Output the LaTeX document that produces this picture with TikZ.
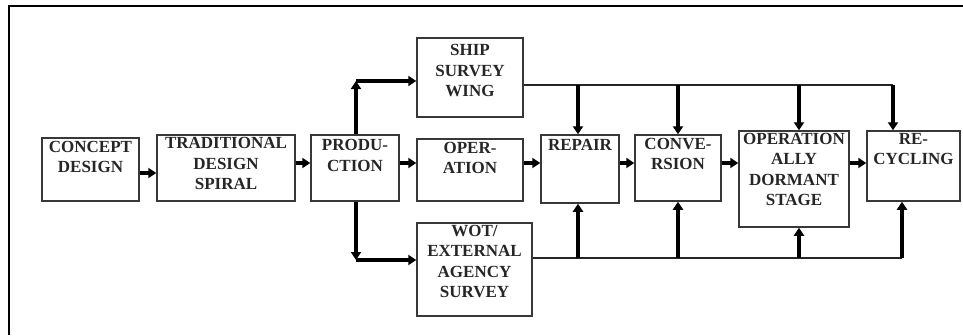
\documentclass[tikz,border=0pt]{standalone}
\usepackage{fontspec}
\setmainfont{Liberation Serif}
\usetikzlibrary{arrows.meta}
\begin{document}
\begin{tikzpicture}[x=1pt,y=-1pt,
  box/.style={draw=black!78, line width=1.5pt, inner sep=0pt},
  txt/.style={font=\bfseries\fontsize{17}{20.5}\selectfont, align=center, inner sep=0pt, anchor=north, text=black!85},
  arr/.style={line width=3.2pt, -{Triangle[length=8pt,width=10pt]}},
  bus/.style={line width=1.8pt, draw=black!85}]
\useasboundingbox (0,0) rectangle (963,335);
\draw[line width=2.2pt] (9,335) -- (9,6) -- (963,6);

% boxes
\node[box, minimum width=97pt,  minimum height=63pt] (concept) at (90.5,169.5) {};
\node[box, minimum width=138pt, minimum height=66pt] (trad)    at (226,168) {};
\node[box, minimum width=88pt,  minimum height=66pt] (prod)    at (355,168) {};
\node[box, minimum width=106pt, minimum height=79pt] (ship)    at (470,77.5) {};
\node[box, minimum width=106pt, minimum height=62pt] (oper)    at (470,170) {};
\node[box, minimum width=115pt, minimum height=93pt] (wot)     at (474.5,269.5) {};
\node[box, minimum width=78pt,  minimum height=68pt] (repair)  at (580,169) {};
\node[box, minimum width=86pt,  minimum height=66pt] (conv)    at (678,168) {};
\node[box, minimum width=110pt, minimum height=96pt] (ods)     at (794,179) {};
\node[box, minimum width=93pt,  minimum height=70pt] (recyc)   at (913.5,166) {};

% texts
\node[txt] (conceptT) at ([yshift=-3.5pt]concept.north) {CONCEPT\\DESIGN};
\node[txt] (tradT)    at ([yshift=-3pt]trad.north) {TRADITIONAL\\DESIGN\\SPIRAL};
\node[txt] (prodT)    at ([yshift=-5pt]prod.north) {PRODU-\\CTION};
\node[txt] (shipT)    at ([yshift=-7pt]ship.north) {SHIP\\SURVEY\\WING};
\node[txt] (operT)    at ([yshift=-3.5pt]oper.north) {OPER-\\ATION};
\node[txt] (wotT)     at ([yshift=-2.5pt]wot.north) {WOT/\\EXTERNAL\\AGENCY\\SURVEY};
\node[txt] (repairT)  at ([yshift=-5pt]repair.north) {REPAIR};
\node[txt] (convT)    at ([yshift=-3.5pt]conv.north) {CONVE-\\RSION};
\node[txt] (odsT)     at ([yshift=-2.5pt]ods.north) {OPERATION\\ALLY\\DORMANT\\STAGE};
\node[txt] (recycT)   at ([yshift=-2.5pt]recyc.north) {RE-\\CYCLING};

% main chain
\draw[arr] (concept.east |- 0,173) -- (trad.west |- 0,173);
\draw[arr] (trad.east |- 0,163) -- (prod.west |- 0,163);
\draw[arr] (prod.east |- 0,163) -- (oper.west |- 0,163);
\draw[arr] (oper.east |- 0,163) -- (repair.west |- 0,163);
\draw[arr] (repair.east |- 0,163) -- (conv.west |- 0,163);
\draw[arr] (conv.east |- 0,163) -- (ods.west |- 0,163);
\draw[arr] (ods.east |- 0,163) -- (recyc.west |- 0,163);

% production branches
\coordinate (cu) at (356,81);
\coordinate (cd) at (356,260);
\draw[arr] (prod.north -| cu) -- (cu);
\draw[arr] (cu) -- (cu -| ship.west);
\draw[arr] (prod.south -| cd) -- (cd);
\draw[arr] (cd) -- (cd -| wot.west);

% top bus
\coordinate (t1) at (578,85);
\coordinate (t2) at (678,85);
\coordinate (t3) at (799,85);
\coordinate (t4) at (893,85);
\draw[bus] (ship.east |- t1) -- (t4);
\draw[arr] (t1) -- (t1 |- repair.north);
\draw[arr] (t2) -- (t2 |- conv.north);
\draw[arr] (t3) -- (t3 |- ods.north);
\draw[arr] (t4) -- (t4 |- recyc.north);

% bottom bus
\coordinate (b1) at (578,258);
\coordinate (b2) at (678,258);
\coordinate (b3) at (799,258);
\coordinate (b4) at (902,258);
\draw[bus] (wot.east |- b1) -- (b4);
\draw[arr] (b1) -- (b1 |- repair.south);
\draw[arr] (b2) -- (b2 |- conv.south);
\draw[arr] (b3) -- (b3 |- ods.south);
\draw[arr] (b4) -- (b4 |- recyc.south);
\end{tikzpicture}
\end{document}
